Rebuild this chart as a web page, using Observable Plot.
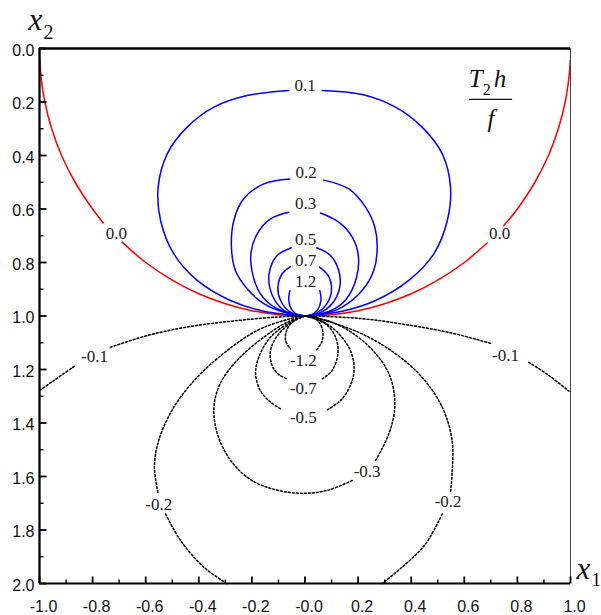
<!DOCTYPE html>
<html>
<head>
<meta charset="utf-8">
<script src="https://cdn.jsdelivr.net/npm/d3@7"></script>
<script src="https://cdn.jsdelivr.net/npm/@observablehq/plot@0.6"></script>
<style>
  html, body { margin: 0; padding: 0; background: #fff; }
  #chart svg { display: block; }
</style>
</head>
<body>
<div id="chart"></div>
<script>
// ---- tick values and labels ----
const xMajorTicks = [-1.0, -0.8, -0.6, -0.4, -0.2, 0.0, 0.2, 0.4, 0.6, 0.8, 1.0];
const xTickLabels = ["-1.0", "-0.8", "-0.6", "-0.4", "-0.2", "-0.0", "0.2", "0.4", "0.6", "0.8", "1.0"];
const xMinorTicks = [-0.9, -0.7, -0.5, -0.3, -0.1, 0.1, 0.3, 0.5, 0.7, 0.9];
const yMajorTicks = [0.0, 0.2, 0.4, 0.6, 0.8, 1.0, 1.2, 1.4, 1.6, 1.8, 2.0];
const yTickLabels = ["0.0", "0.2", "0.4", "0.6", "0.8", "1.0", "1.2", "1.4", "1.6", "1.8", "2.0"];
const yMinorTicks = [0.1, 0.3, 0.5, 0.7, 0.9, 1.1, 1.3, 1.5, 1.7, 1.9];

// ---- contour lines, [x1, x2]; null = gap for a label ----
const contour00 = [[-1.0,0.0],[-0.995,0.1],[-0.980,0.2],[-0.954,0.3],[-0.917,0.4],[-0.866,0.5],[-0.800,0.6],[-0.760,0.652],null,
  [-0.689,0.724],[-0.600,0.800],[-0.500,0.866],[-0.400,0.917],[-0.300,0.954],[-0.200,0.980],[-0.100,0.995],[0,1],
  [0.100,0.995],[0.200,0.980],[0.300,0.954],[0.400,0.917],[0.500,0.866],[0.600,0.800],[0.686,0.727],null,
  [0.749,0.662],[0.800,0.600],[0.866,0.500],[0.917,0.400],[0.954,0.300],[0.980,0.200],[0.995,0.100],[0.999,0.045]];
const contourP01 = [[0,1],[-0.155,0.982],[-0.281,0.942],[-0.406,0.867],[-0.494,0.768],[-0.544,0.643],[-0.553,0.518],
  [-0.519,0.394],[-0.444,0.294],[-0.343,0.219],[-0.218,0.176],[-0.061,0.157],null,
  [0.065,0.157],[0.215,0.172],[0.341,0.219],[0.441,0.294],[0.517,0.394],[0.548,0.518],[0.536,0.643],
  [0.485,0.768],[0.391,0.867],[0.266,0.942],[0.140,0.982],[0,1]];
const contourP02 = [[0,1],[-0.080,0.986],[-0.155,0.954],[-0.218,0.898],[-0.262,0.830],[-0.277,0.743],[-0.268,0.643],
  [-0.231,0.562],[-0.155,0.506],[-0.057,0.488],null,
  [0.071,0.492],[0.165,0.525],[0.228,0.593],[0.263,0.668],[0.272,0.743],[0.259,0.830],[0.215,0.905],
  [0.140,0.967],[0.065,0.994],[0,1]];
const contourP03 = [[0,1],[-0.105,0.973],[-0.168,0.917],[-0.200,0.830],[-0.203,0.760],[-0.180,0.693],[-0.130,0.637],
  [-0.061,0.612],null,
  [0.058,0.615],[0.127,0.649],[0.178,0.705],[0.201,0.775],[0.193,0.860],[0.153,0.940],[0.090,0.983],[0,1]];
const contourP05 = [[0,1],[-0.061,0.990],[-0.105,0.954],[-0.133,0.892],[-0.133,0.830],[-0.105,0.774],[-0.052,0.745],null,
  [0.044,0.745],[0.096,0.774],[0.127,0.830],[0.131,0.892],[0.102,0.954],[0.052,0.990],[0,1]];
const contourP07 = [[0,1],[-0.055,0.986],[-0.092,0.942],[-0.102,0.892],[-0.086,0.842],[-0.055,0.815],null,
  [0.055,0.817],[0.088,0.850],[0.100,0.900],[0.085,0.950],[0.045,0.988],[0,1]];
const contourP12 = [[0,1],[-0.017,1.0],[-0.048,0.979],[-0.061,0.942],[-0.057,0.905],null,
  [0.056,0.905],[0.060,0.942],[0.046,0.979],[0.014,1.0],[0,1]];
const contourM01 = [[-0.999,1.278],[-0.946,1.241],[-0.864,1.185],null,
  [-0.733,1.117],[-0.594,1.073],[-0.431,1.039],[-0.255,1.017],[-0.105,1.004],[0,1],
  [0.215,1.010],[0.404,1.036],[0.567,1.067],[0.705,1.104],null,
  [0.843,1.173],[0.918,1.222],[0.994,1.281]];
const contourM02 = [[-0.295,2.0],[-0.381,1.939],[-0.469,1.839],[-0.525,1.740],null,
  [-0.554,1.659],[-0.567,1.565],[-0.551,1.465],[-0.494,1.341],[-0.406,1.229],[-0.293,1.129],[-0.180,1.054],[-0.080,1.017],[0,1],
  [0.077,1.017],[0.215,1.067],[0.341,1.141],[0.441,1.229],[0.517,1.341],[0.554,1.465],[0.554,1.590],[0.548,1.659],null,
  [0.517,1.740],[0.454,1.852],[0.366,1.939],[0.290,2.0]];
const contourM03 = [[0,1],[-0.067,1.023],[-0.155,1.079],[-0.250,1.160],[-0.318,1.250],[-0.343,1.340],[-0.330,1.440],
  [-0.280,1.540],[-0.200,1.615],[-0.100,1.652],[0.0,1.663],[0.090,1.650],[0.178,1.615],null,
  [0.266,1.540],[0.316,1.440],[0.338,1.340],[0.322,1.230],[0.266,1.140],[0.178,1.063],[0.090,1.019],[0,1]];
const contourM05 = [[0,1],[-0.055,1.023],[-0.130,1.079],[-0.174,1.154],[-0.186,1.216],[-0.168,1.279],[-0.130,1.322],[-0.092,1.347],null,
  [0.084,1.351],[0.140,1.310],[0.178,1.241],[0.184,1.179],[0.165,1.117],[0.115,1.054],[0.052,1.014],[0,1]];
const contourM07 = [[0,1],[-0.042,1.019],[-0.099,1.067],[-0.130,1.129],[-0.124,1.185],[-0.099,1.219],[-0.067,1.235],null,
  [0.065,1.235],[0.102,1.204],[0.124,1.141],[0.115,1.079],[0.077,1.029],[0,1]];
const contourM12 = [[0,1],[-0.036,1.014],[-0.067,1.048],[-0.073,1.092],[-0.055,1.123],null,
  [0.044,1.126],[0.065,1.092],[0.065,1.048],[0.044,1.014],[0,1]];

const contourLevels = [0.0, 0.1, 0.2, 0.3, 0.5, 0.7, 1.2, -0.1, -0.2, -0.3, -0.5, -0.7, -1.2];
const contourPaths = [contour00, contourP01, contourP02, contourP03, contourP05, contourP07, contourP12,
  contourM01, contourM02, contourM03, contourM05, contourM07, contourM12];

// ---- contour labels ----
const labelTexts = ["0.1", "0.2", "0.3", "0.5", "0.7", "1.2", "-1.2", "-0.7", "-0.5", "0.0", "0.0",
  "-0.1", "-0.1", "-0.2", "-0.2", "-0.3"];
const labelX1 = [0.0, 0.004, 0.002, 0.002, 0.002, 0.002, -0.006, -0.006, -0.006, -0.710, 0.733,
  -0.793, 0.755, -0.551, 0.539, 0.234];
const labelX2 = [0.138, 0.465, 0.578, 0.714, 0.794, 0.871, 1.166, 1.271, 1.381, 0.691, 0.691,
  1.151, 1.146, 1.704, 1.693, 1.581];

// ---- annotation (quantity shown) ----
const quantityAnchor = [{x1: 0.70, x2: 0.19}];
const quantityBar = [{x1a: 0.620, x1b: 0.782, x2: 0.19}];

// ---- build tables ----
const lineRows = [];
contourPaths.forEach((path, k) => {
  path.forEach(p => {
    lineRows.push(p ? {x1: p[0], x2: p[1], level: contourLevels[k]}
                    : {x1: NaN, x2: NaN, level: contourLevels[k]});
  });
});
const posRows = lineRows.filter(d => d.level > 0);
const zeroRows = lineRows.filter(d => d.level === 0);
const negRows = lineRows.filter(d => d.level < 0);
const labelRows = labelTexts.map((t, i) => ({text: t, x1: labelX1[i], x2: labelX2[i]}));

const tickShape = {draw(context, l) { context.moveTo(0, 0); context.lineTo(0, -l); }};
const serif = "'Liberation Serif', 'Times New Roman', serif";
const sans = "'Liberation Sans', Arial, sans-serif";

const chart = Plot.plot({
  width: 601,
  height: 615,
  marginLeft: 39,
  marginRight: 31,
  marginTop: 48,
  marginBottom: 32,
  style: {background: "#fff", overflow: "visible"},
  x: {domain: [-1, 1], axis: null},
  y: {domain: [0, 2], reverse: true, axis: null},
  marks: [
    Plot.line(zeroRows, {x: "x1", y: "x2", z: "level", curve: "catmull-rom", stroke: "#ff0000", strokeWidth: 1.5}),
    Plot.line(posRows, {x: "x1", y: "x2", z: "level", curve: "catmull-rom", stroke: "#0000ff", strokeWidth: 1.5}),
    Plot.line(negRows, {x: "x1", y: "x2", z: "level", curve: "catmull-rom", stroke: "#000", strokeWidth: 1.5, strokeDasharray: "2,2"}),
    Plot.text(labelRows, {x: "x1", y: "x2", text: "text", fontFamily: serif, fontSize: 17, fill: "#222", lineAnchor: "middle"}),
    // frame
    Plot.ruleX([1], {stroke: "#444", strokeWidth: 1}),
    Plot.ruleX([-1], {stroke: "#000", strokeWidth: 2.3}),
    Plot.ruleY([0], {stroke: "#000", strokeWidth: 2.6}),
    Plot.ruleY([2], {stroke: "#000", strokeWidth: 2.2}),
    // ticks
    Plot.vector(yMajorTicks, {x: -1, y: d => d, length: 7, rotate: 90, anchor: "start", shape: tickShape, stroke: "#000", strokeWidth: 1.8, strokeLinecap: "butt"}),
    Plot.vector(yMinorTicks, {x: -1, y: d => d, length: 4, rotate: 90, anchor: "start", shape: tickShape, stroke: "#000", strokeWidth: 1.4, strokeLinecap: "butt"}),
    Plot.vector(xMajorTicks, {x: d => d, y: 2, length: 7, rotate: 0, anchor: "start", shape: tickShape, stroke: "#000", strokeWidth: 1.8, strokeLinecap: "butt"}),
    Plot.vector(xMinorTicks, {x: d => d, y: 2, length: 4, rotate: 0, anchor: "start", shape: tickShape, stroke: "#000", strokeWidth: 1.4, strokeLinecap: "butt"}),
    // tick labels
    Plot.text(yMajorTicks, {x: -1, y: d => d, text: (d, i) => yTickLabels[i], textAnchor: "end", dx: -5, dy: 2, fontFamily: sans, fontSize: 16, fill: "#111"}),
    Plot.text(xMajorTicks, {x: d => d, y: 2, text: (d, i) => xTickLabels[i], textAnchor: "middle", dx: 4, dy: 23, fontFamily: sans, fontSize: 16, fill: "#111"}),
    // axis titles
    Plot.text(["x"], {frameAnchor: "top-left", text: d => d, textAnchor: "start", lineAnchor: "bottom", dx: -11, dy: -18.5, fontFamily: serif, fontStyle: "italic", fontSize: 31, fill: "#111"}),
    Plot.text(["2"], {frameAnchor: "top-left", text: d => d, textAnchor: "start", lineAnchor: "bottom", dx: 4, dy: -10, fontFamily: serif, fontSize: 20, fill: "#111"}),
    Plot.text(["x"], {frameAnchor: "bottom-right", text: d => d, textAnchor: "start", lineAnchor: "bottom", dx: 6, dy: -5, fontFamily: serif, fontStyle: "italic", fontSize: 31, fill: "#111"}),
    Plot.text(["1"], {frameAnchor: "bottom-right", text: d => d, textAnchor: "start", lineAnchor: "bottom", dx: 21, dy: 2, fontFamily: serif, fontSize: 19, fill: "#111"}),
    // quantity annotation T2 h / f
    Plot.text(quantityAnchor, {x: "x1", y: "x2", text: () => "T", textAnchor: "start", lineAnchor: "bottom", dx: -22, dy: -12, fontFamily: serif, fontStyle: "italic", fontSize: 25, fill: "#111"}),
    Plot.text(quantityAnchor, {x: "x1", y: "x2", text: () => "2", textAnchor: "start", lineAnchor: "bottom", dx: -8, dy: -4, fontFamily: serif, fontSize: 16, fill: "#111"}),
    Plot.text(quantityAnchor, {x: "x1", y: "x2", text: () => "h", textAnchor: "start", lineAnchor: "bottom", dx: 3, dy: -12, fontFamily: serif, fontStyle: "italic", fontSize: 25, fill: "#111"}),
    Plot.ruleY(quantityBar, {y: "x2", x1: "x1a", x2: "x1b", stroke: "#111", strokeWidth: 1.3}),
    Plot.text(quantityAnchor, {x: "x1", y: "x2", text: () => "f", textAnchor: "middle", lineAnchor: "bottom", dx: 0, dy: 28, fontFamily: serif, fontStyle: "italic", fontSize: 25, fill: "#111"})
  ]
});
document.getElementById("chart").appendChild(chart);
</script>
</body>
</html>
